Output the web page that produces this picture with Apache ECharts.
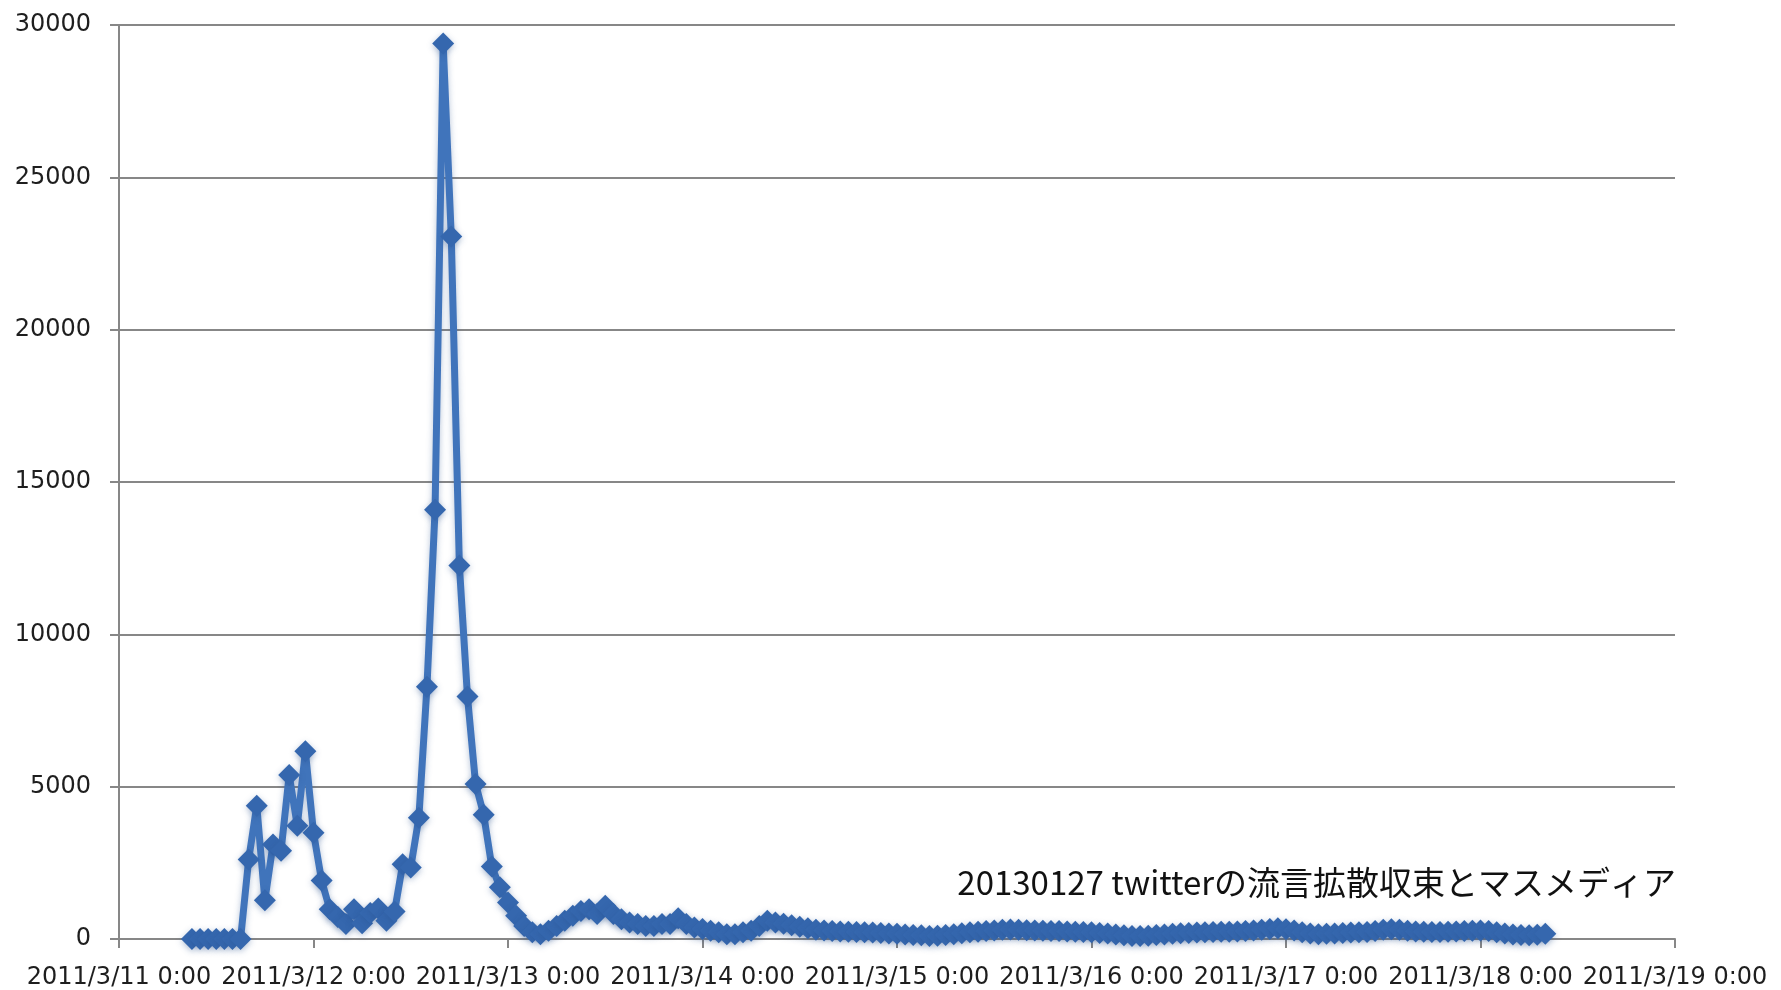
<!DOCTYPE html>
<html>
<head>
<meta charset="utf-8">
<script src="https://cdn.jsdelivr.net/npm/echarts@6.0.0/dist/echarts.min.js"></script>
<style>
html,body{margin:0;padding:0;background:#fff;}
#chart{width:1781px;height:990px;}
</style>
</head>
<body>
<div id="chart"></div>
<script>
// hourly counts, first point at 2011/3/11 9:00 (hours counted from 2011/3/11 0:00)
const startHour = 9;
const values = [
  0,0,0,0,0,0,0,
  2610,4370,1270,3100,2900,5380,3720,6160,
  3490,1920,980,720,490,980,520,850,
  1000,600,900,2450,2350,3980,8280,14090,
  29390,23060,12260,7960,5090,4080,2380,1700,
  1200,760,430,220,160,270,430,600,
  760,920,980,820,1090,820,650,540,
  490,430,430,490,490,680,490,380,
  330,270,220,160,160,220,270,430,
  600,540,500,450,400,350,300,280,
  260,250,240,230,220,210,200,180,
  170,150,130,120,100,110,130,160,
  190,220,240,260,280,300,310,300,
  290,280,270,260,260,250,240,230,
  220,200,180,150,120,100,100,110,
  130,150,170,190,200,210,220,230,
  240,240,250,260,280,300,330,350,
  320,280,220,180,160,170,180,200,
  210,220,230,260,300,320,300,270,
  250,240,230,230,240,250,260,270,
  280,260,220,180,150,130,120,140,
  170
];
const xTickLabels = [
  '2011/3/11 0:00','2011/3/12 0:00','2011/3/13 0:00','2011/3/14 0:00',
  '2011/3/15 0:00','2011/3/16 0:00','2011/3/17 0:00','2011/3/18 0:00','2011/3/19 0:00'
];
const yTickValues = [0,5000,10000,15000,20000,25000,30000];
const noteText = '20130127 twitterの流言拡散収束とマスメディア';

const data = values.map((v, i) => [startHour + i, v]);

const chart = echarts.init(document.getElementById('chart'), null, {renderer: 'canvas'});
const gray = '#878787';
chart.setOption({
  animation: false,
  backgroundColor: '#ffffff',
  grid: {left: 119, right: 106, top: 25, bottom: 50, containLabel: false},
  xAxis: {
    type: 'value',
    min: 0, max: 192, interval: 24,
    axisLine: {show: true, lineStyle: {color: gray, width: 2}},
    axisTick: {show: true, length: 9, lineStyle: {color: gray, width: 2}},
    splitLine: {show: false},
    axisLabel: {
      margin: 27,
      color: '#1e1e1e',
      fontFamily: 'DejaVu Sans',
      fontSize: 24,
      showMinLabel: true, showMaxLabel: true,
      formatter: v => xTickLabels[Math.round(v / 24)] || ''
    }
  },
  yAxis: {
    type: 'value',
    min: yTickValues[0], max: yTickValues[yTickValues.length - 1], interval: 5000,
    axisLine: {show: true, lineStyle: {color: gray, width: 2}},
    axisTick: {show: true, length: 9, lineStyle: {color: gray, width: 2}},
    splitLine: {show: true, lineStyle: {color: gray, width: 2}},
    axisLabel: {
      margin: 28,
      color: '#1e1e1e',
      fontFamily: 'DejaVu Sans',
      fontSize: 24,
      formatter: v => String(v)
    }
  },
  series: [{
    type: 'line',
    data: data,
    symbol: 'diamond',
    symbolSize: 22,
    showAllSymbol: true,
    lineStyle: {color: '#4074bb', width: 7, shadowColor: 'rgba(40,80,140,0.35)', shadowBlur: 6, shadowOffsetY: 2},
    itemStyle: {color: '#3567ae', shadowColor: 'rgba(40,80,140,0.35)', shadowBlur: 6, shadowOffsetY: 2},
    z: 3
  }],
  graphic: [{
    type: 'text',
    x: 1676, y: 882,
    style: {
      text: noteText,
      fill: '#111111',
      font: '33px "Noto Sans CJK JP"',
      align: 'right',
      verticalAlign: 'middle'
    },
    z: 10
  }]
});
</script>
</body>
</html>
